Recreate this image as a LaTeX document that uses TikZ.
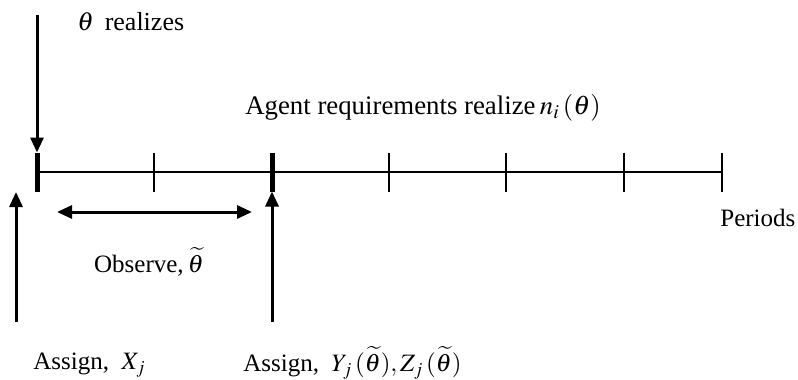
\documentclass[tikz,border=0pt]{standalone}
\usepackage{mathptmx}
\usepackage[no-math]{fontspec}
\setmainfont{Liberation Serif}
\usetikzlibrary{arrows.meta}

\begin{document}
\begin{tikzpicture}[
    x=0.5pt, y=-0.5pt,
    >={Triangle[length=7.5pt, width=6.5pt]},
    every node/.style={font=\fontsize{12.5}{15}\selectfont, inner sep=0pt},
    big/.style={font=\fontsize{13.4}{16}\selectfont},
    axis/.style={line width=1pt},
    tick/.style={line width=1pt},
    major/.style={line width=2.5pt},
    arrowline/.style={->, line width=1.5pt}
]
\useasboundingbox (0,0) rectangle (798,380);

% --- Time line with one tick per period ---
\foreach \x/\n in {37/p0, 154/p1, 272/p2, 389/p3, 506/p4, 624/p5, 722/p6}
    \coordinate (\n) at (\x,172);
\draw[axis] (p0) -- (p6);
\foreach \n in {p1, p3, p4, p5, p6}
    \draw[tick] ([yshift=9.75pt]\n) -- ([yshift=-9.75pt]\n);
\foreach \n in {p0, p2}
    \draw[major] ([yshift=9.75pt]\n) -- ([yshift=-9.75pt]\n);

% --- Events above the line ---
\coordinate (realize) at (37,15);
\draw[arrowline] (realize) -- ([yshift=9.75pt]p0);
\node[anchor=west, font=\fontsize{13}{16}\selectfont] (theta) at (77,22) {$\theta$\ \,realizes};
\node[big] (agent) at (423,108) {Agent requirements realize\,$n_{i}\,(\theta)$};

% --- Events below the line ---
\coordinate (assignX) at (16,322);
\coordinate (assignXtip) at (16,192);
\draw[arrowline] (assignX) -- (assignXtip);
\coordinate (assignY) at (272,322);
\draw[arrowline] (assignY) -- ([yshift=-9.75pt]p2);

\coordinate (obsL) at (57,212);
\coordinate (obsR) at (252,212);
\draw[<->, line width=1.5pt] (obsL) -- (obsR);
\node (observe) at (149,262) {Observe,\,$\widetilde{\theta}$};

\node[anchor=west] (xlabel) at (33,365) {Assign, \ $X_{j}$};
\node[anchor=west] (ylabel) at (243,363) {Assign, \ $Y_{j}\,(\widetilde{\theta}), Z_{j}\,(\widetilde{\theta})$};
\node[anchor=west] (periods) at (720,218) {Periods};

\end{tikzpicture}
\end{document}
